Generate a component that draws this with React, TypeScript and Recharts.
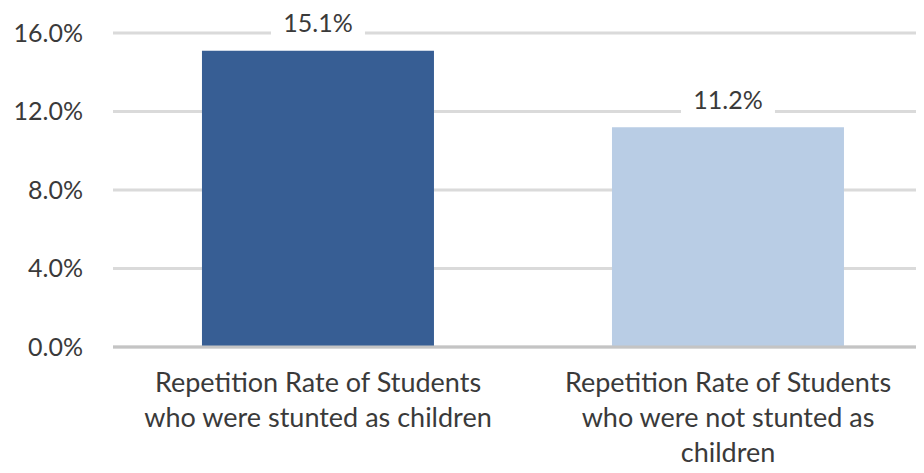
import React from 'react';
import { Bar, BarChart, CartesianGrid, Cell, LabelList, XAxis, YAxis } from 'recharts';

const categories = [
  'Repetition Rate of Students\nwho were stunted as children',
  'Repetition Rate of Students\nwho were not stunted as\nchildren',
];
const rates = [15.1, 11.2];
const barColors = ['#375e94', '#b9cde5'];
const yTicks = [0, 4, 8, 12, 16];

const data = categories.map((name, i) => ({ name, rate: rates[i] }));

const FONT = 'Lato, "Open Sans", sans-serif';
const TEXT = '#3a3a3a';

const CategoryTick = ({ x, y, payload }: any) => {
  const lines = String(payload.value).split('\n');
  return (
    <g transform={`translate(${x},${y})`}>
      {lines.map((line, i) => (
        <text
          key={i}
          x={0}
          y={37 + i * 35}
          textAnchor="middle"
          fill={TEXT}
          fontSize={27}
          fontFamily={FONT}
        >
          {line}
        </text>
      ))}
    </g>
  );
};

const ValueLabel = ({ x, y, width, value }: any) => {
  const cx = x + width / 2;
  const cy = y - 27;
  return (
    <g>
      <rect x={cx - 47} y={cy - 15} width={94} height={30} fill="#ffffff" />
      <text x={cx} y={cy} dy="0.35em" textAnchor="middle" fill={TEXT} fontSize={25} fontFamily={FONT}>
        {`${value.toFixed(1)}%`}
      </text>
    </g>
  );
};

const App: React.FC = () => {
  return (
    <div style={{ margin: -8, width: 924, height: 473, overflow: 'hidden', background: '#fff' }}>
      <BarChart
        width={940}
        height={473}
        data={data}
        margin={{ top: 33, right: 7, left: 0, bottom: 0 }}
        barCategoryGap="21.7%"
      >
        <CartesianGrid vertical={false} stroke="#dadada" strokeWidth={3} />
        <XAxis
          dataKey="name"
          height={126}
          axisLine={{ stroke: '#c4c4c4', strokeWidth: 3 }}
          tickLine={false}
          interval={0}
          tick={<CategoryTick />}
        />
        <YAxis
          width={113}
          domain={[0, 16]}
          ticks={yTicks}
          axisLine={false}
          tickLine={false}
          tickMargin={24}
          tick={{ fill: TEXT, fontSize: 25, fontFamily: FONT }}
          tickFormatter={(v: number) => `${v.toFixed(1)}%`}
        />
        <Bar dataKey="rate" isAnimationActive={false}>
          {data.map((_, i) => (
            <Cell key={i} fill={barColors[i]} />
          ))}
          <LabelList dataKey="rate" content={<ValueLabel />} />
        </Bar>
      </BarChart>
    </div>
  );
};

export default App;
